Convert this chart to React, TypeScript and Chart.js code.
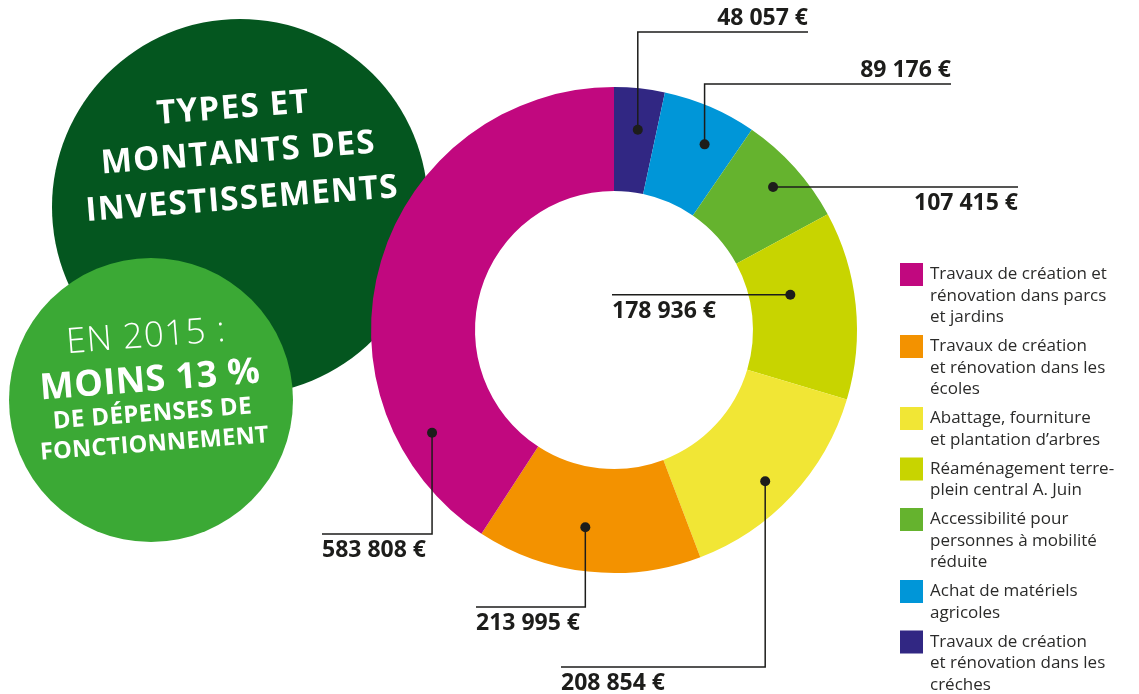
import React, { useEffect, useRef } from "react";
import { Chart, registerables } from "chart.js";

Chart.register(...registerables);

// Data in clockwise order from 12 o'clock
const categories = [
  "Travaux de création\net rénovation dans les\ncréches",
  "Achat de matériels\nagricoles",
  "Accessibilité pour\npersonnes à mobilité\nréduite",
  "Réaménagement terre-\nplein central A. Juin",
  "Abattage, fourniture\net plantation d’arbres",
  "Travaux de création\net rénovation dans les\nécoles",
  "Travaux de création et\nrénovation dans parcs\net jardins",
];
const amounts = [48057, 89176, 107415, 178936, 208854, 213995, 583808];
const colors = ["#312783", "#0096D8", "#65B32E", "#C8D400", "#F1E635", "#F39200", "#C1087F"];

const titleLines = ["TYPES ET", "MONTANTS DES", "INVESTISSEMENTS"];
const subLines = ["EN 2015 :", "MOINS 13 %", "DE DÉPENSES DE", "FONCTIONNEMENT"];

// Callout layout: t = position along the arc, r = fraction of outer radius,
// path kind, elbow (y for vertical leg), end x, label placement
const callouts = [
  { t: 0.56, r: 0.83, kind: "up", elbowY: 32, endX: 808, above: true, align: "right" },
  { t: 0.62, r: 0.85, kind: "up", elbowY: 84, endX: 951, above: true, align: "right" },
  { t: 0.5, r: 0.88, kind: "flat", elbowY: 0, endX: 1018, above: false, align: "right" },
  { t: 0.38, r: 0.74, kind: "flat", elbowY: 0, endX: 612, above: false, align: "left" },
  { t: 0.54, r: 0.88, kind: "down", elbowY: 667, endX: 561, above: false, align: "left" },
  { t: 0.54, r: 0.82, kind: "down", elbowY: 607, endX: 476, above: false, align: "left" },
  { t: 0.187, r: 0.86, kind: "down", elbowY: 534, endX: 322, above: false, align: "left" },
];

const fmt = (v: number) => String(v).replace(/\B(?=(\d{3})+(?!\d))/g, " ") + " €";
const INK = "#1d1d1b";
const FONT = "'Open Sans', 'DejaVu Sans', sans-serif";

function rotText(ctx: CanvasRenderingContext2D, text: string, cx: number, cy: number, font: string, spacing: string) {
  ctx.save();
  ctx.translate(cx, cy);
  ctx.rotate((-4.4 * Math.PI) / 180);
  ctx.font = font;
  (ctx as any).letterSpacing = spacing;
  ctx.textAlign = "center";
  ctx.textBaseline = "alphabetic";
  ctx.fillStyle = "#ffffff";
  ctx.fillText(text, 0, 0);
  ctx.restore();
}

const backdrop = {
  id: "backdrop",
  beforeDatasetsDraw(chart: any) {
    const ctx: CanvasRenderingContext2D = chart.ctx;
    ctx.save();
    ctx.fillStyle = "#04561F";
    ctx.beginPath();
    ctx.arc(240, 207, 188, 0, Math.PI * 2);
    ctx.fill();
    const tpos = [[234, 118], [239, 163], [243, 209]];
    titleLines.forEach((l, i) => rotText(ctx, l, tpos[i][0], tpos[i][1], `bold 33px ${FONT}`, "1.3px"));
    ctx.fillStyle = "#3BA935";
    ctx.beginPath();
    ctx.arc(151, 400, 142, 0, Math.PI * 2);
    ctx.fill();
    rotText(ctx, subLines[0], 147, 347, `300 35px ${FONT}`, "1px");
    rotText(ctx, subLines[1], 151, 391, `bold 36px ${FONT}`, "0.5px");
    rotText(ctx, subLines[2], 153, 421, `bold 24px ${FONT}`, "0.4px");
    rotText(ctx, subLines[3], 155, 451, `bold 23.5px ${FONT}`, "0.3px");
    ctx.restore();
  },
  afterDatasetsDraw(chart: any) {
    const ctx: CanvasRenderingContext2D = chart.ctx;
    const meta = chart.getDatasetMeta(0);
    ctx.save();
    meta.data.forEach((arc: any, i: number) => {
      const p = arc.getProps(["x", "y", "startAngle", "endAngle", "outerRadius"], true);
      const c = callouts[i];
      const a = p.startAngle + c.t * (p.endAngle - p.startAngle);
      const dx = p.x + c.r * p.outerRadius * Math.cos(a);
      const dy = p.y + c.r * p.outerRadius * Math.sin(a);
      ctx.strokeStyle = INK;
      ctx.lineWidth = 1.5;
      ctx.beginPath();
      ctx.moveTo(dx, dy);
      let ly = dy;
      if (c.kind === "flat") {
        ctx.lineTo(c.endX, dy);
      } else {
        ctx.lineTo(dx, c.elbowY);
        ctx.lineTo(c.endX, c.elbowY);
        ly = c.elbowY;
      }
      ctx.stroke();
      ctx.fillStyle = INK;
      ctx.beginPath();
      ctx.arc(dx, dy, 5, 0, Math.PI * 2);
      ctx.fill();
      ctx.font = `bold 23px ${FONT}`;
      ctx.textAlign = c.align as CanvasTextAlign;
      ctx.textBaseline = "alphabetic";
      ctx.fillText(fmt(amounts[i]), c.endX, c.above ? ly - 7 : ly + 23);
    });

    // Legend (reverse of data order)
    let y = 263;
    for (let k = categories.length - 1; k >= 0; k--) {
      const lines = categories[k].split("\n");
      ctx.fillStyle = colors[k];
      ctx.fillRect(900, y, 23, 23);
      ctx.fillStyle = "#2b2b2a";
      ctx.font = `17px ${FONT}`;
      ctx.textAlign = "left";
      ctx.textBaseline = "alphabetic";
      lines.forEach((ln, j) => ctx.fillText(ln, 930, y + 16 + j * 21.5));
      y += lines.length * 21.5 + 7.5;
    }
    ctx.restore();
  },
};

export default function App() {
  const ref = useRef<HTMLCanvasElement | null>(null);
  useEffect(() => {
    if (!ref.current) return;
    const chart = new Chart(ref.current, {
      type: "doughnut",
      data: {
        labels: categories.map((c) => c.replace(/\n/g, " ")),
        datasets: [
          {
            data: amounts,
            backgroundColor: colors,
            borderWidth: 0,
          },
        ],
      },
      options: {
        responsive: false,
        animation: false,
        devicePixelRatio: 1,
        cutout: "57.2%",
        layout: { padding: { left: 371, right: 282, top: 87, bottom: 121 } },
        plugins: { legend: { display: false }, tooltip: { enabled: false } },
      },
      plugins: [backdrop],
    });
    return () => chart.destroy();
  }, []);
  return (
    <div style={{ position: "absolute", left: 0, top: 0, width: 1139, height: 694, background: "#fff" }}>
      <canvas ref={ref} width={1139} height={694} style={{ display: "block" }} />
    </div>
  );
}
